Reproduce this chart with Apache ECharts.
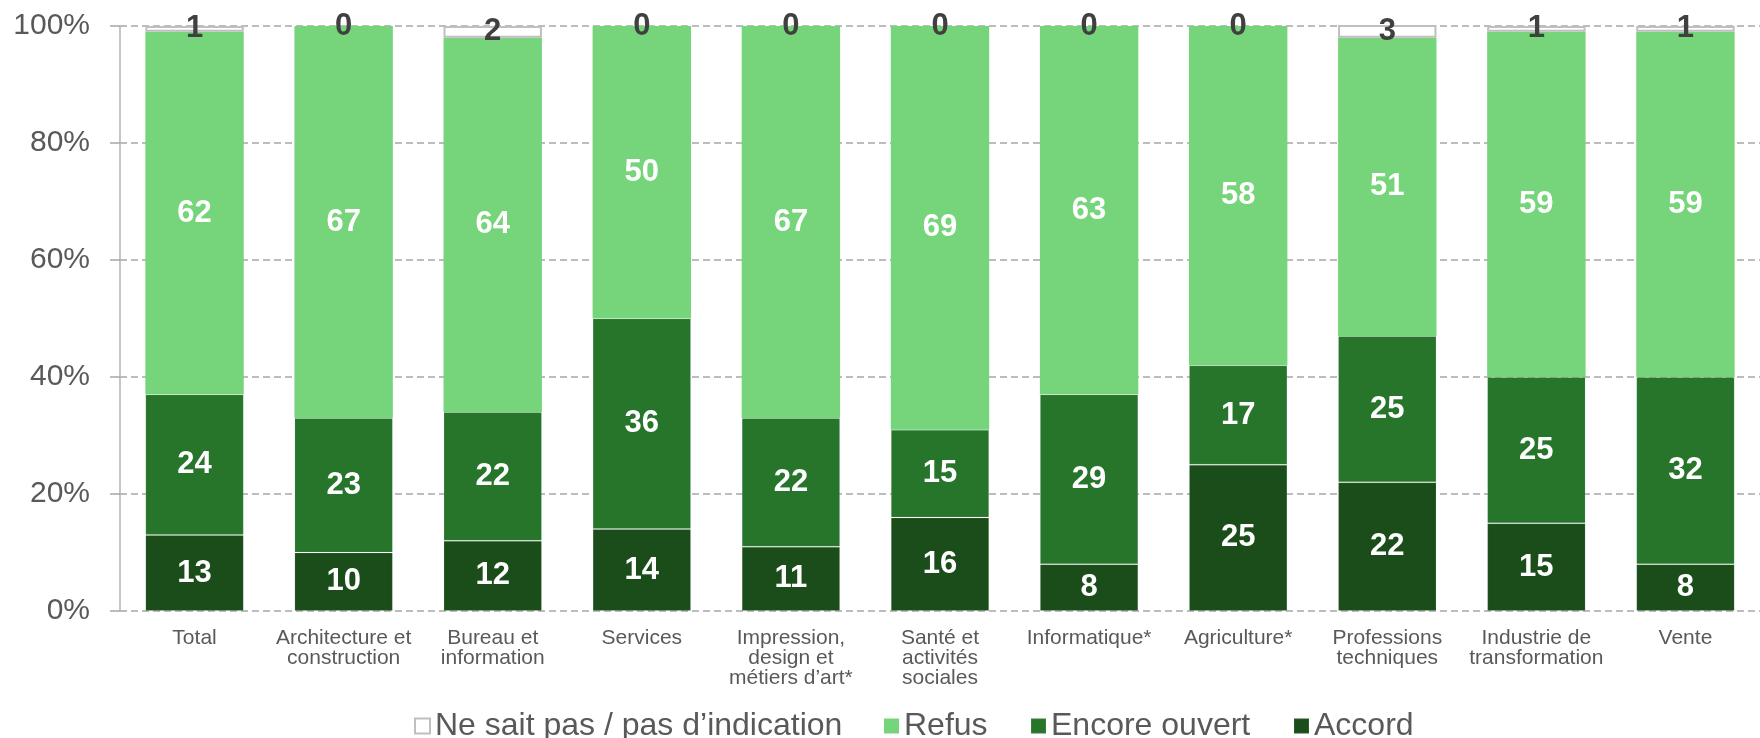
<!DOCTYPE html>
<html>
<head>
<meta charset="utf-8">
<script src="https://cdn.jsdelivr.net/npm/echarts@6/dist/echarts.min.js"></script>
<style>
html,body{margin:0;padding:0;background:#fff;}
#chart{width:1760px;height:738px;}
</style>
</head>
<body>
<div id="chart"></div>
<script>
const categories = ['Total','Architecture et\nconstruction','Bureau et\ninformation','Services','Impression,\ndesign et\nmétiers d’art*','Santé et\nactivités\nsociales','Informatique*','Agriculture*','Professions\ntechniques','Industrie de\ntransformation','Vente'];
const accord = [13,10,12,14,11,16,8,25,22,15,8];
const encore = [24,23,22,36,22,15,29,17,25,25,32];
const refus  = [62,67,64,50,67,69,63,58,51,59,59];
const nsp    = [1,0,2,0,0,0,0,0,3,1,1];
const yTicks = [0,20,40,60,80,100];
const legendNames = ['Ne sait pas / pas d’indication','Refus','Encore ouvert','Accord'];

const FONT = 'Liberation Sans, Arial, Helvetica, sans-serif';
const chart = echarts.init(document.getElementById('chart'), null, {renderer:'canvas'});

const segBorder = {borderColor:'rgba(255,255,255,0.08)', borderWidth:1};
const whiteLabel = {show:true, position:'inside', color:'#ffffff', fontWeight:'bold', fontSize:31, fontFamily:FONT};

const legendLefts = [409, 879, 1025, 1288];
const legends = legendNames.map((n, i) => ({
  data:[n], left:legendLefts[i], top:705, itemWidth:15, itemHeight:15, icon:'rect',
  textStyle:{fontSize:32, color:'#595959', fontFamily:FONT}
}));

const option = {
  animation:false,
  backgroundColor:'#ffffff',
  grid:{left:120, top:26, width:1646, height:585, containLabel:false},
  legend:legends,
  xAxis:{
    type:'category', data:categories,
    axisLine:{show:false}, axisTick:{show:false},
    axisLabel:{interval:0, margin:17, fontSize:21, lineHeight:20, color:'#595959', fontFamily:FONT}
  },
  yAxis:{
    type:'value', min:yTicks[0], max:yTicks[yTicks.length-1], interval:20,
    axisLine:{show:true, lineStyle:{color:'#b3b3b3', width:1.5}},
    axisTick:{show:true, length:10, lineStyle:{color:'#a6a6a6', width:1.5}},
    axisLabel:{formatter:'{value}%', margin:30, fontSize:30, color:'#595959', fontFamily:FONT},
    splitLine:{show:true, lineStyle:{color:'#a6a6a6', width:1.5, type:[7,4]}}
  },
  series:[
    {name:'Accord', type:'bar', stack:'s', barWidth:'66%', data:accord,
     itemStyle:Object.assign({color:'#1b4d1b'}, segBorder), label:whiteLabel},
    {name:'Encore ouvert', type:'bar', stack:'s', data:encore,
     itemStyle:Object.assign({color:'#26752b'}, segBorder), label:whiteLabel},
    {name:'Refus', type:'bar', stack:'s', data:refus,
     itemStyle:{color:'#76d47b'}, label:whiteLabel},
    {name:legendNames[0], type:'bar', stack:'s', clip:true,
     data:nsp.map(v => ({value:v, itemStyle:{borderWidth: v === 0 ? 0 : 2}})),
     itemStyle:{color:'#ffffff', borderColor:'#bfbfbf', borderWidth:2},
     label:{show:true, position:'inside', color:'#404040', fontWeight:'bold', fontSize:31, fontFamily:FONT}}
  ]
};
chart.setOption(option);
</script>
</body>
</html>
